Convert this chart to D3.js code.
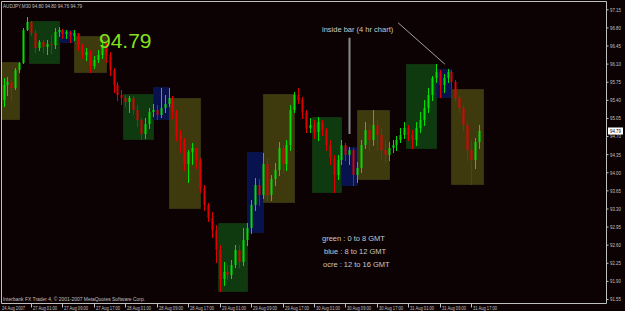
<!DOCTYPE html>
<html>
<head>
<meta charset="utf-8">
<script src="https://cdn.jsdelivr.net/npm/d3@7/dist/d3.min.js"></script>
<style>
  body { margin: 0; background: #0c0204; }
  svg { display: block; font-family: "Liberation Sans", Arial, sans-serif; }
</style>
</head>
<body>
<script>
var svgWidth = 625;
var svgHeight = 311;

// hourly bars, 24 Aug 2007 16:00 -> 31 Aug 2007
var firstOpen = 95.40;
var closes = [
  95.69, 95.75, 95.63, 95.98, 96.11, 96.75, 96.90, 96.69, 96.40, 96.52,
  96.42, 96.48, 96.46, 96.71, 96.75, 96.67, 96.71, 96.63, 96.69, 96.46,
  96.27, 96.33, 96.06, 96.17, 96.27, 96.46, 96.27, 95.98, 95.69, 95.50,
  95.44, 95.36, 95.44, 95.21, 95.01, 94.74, 94.94, 95.17, 95.21, 95.11,
  95.25, 95.32, 95.44, 95.17, 94.72, 94.63, 94.15, 94.40, 94.47, 94.24,
  93.70, 93.37, 93.12, 92.89, 92.50, 91.93, 92.08, 92.02, 92.21, 92.50,
  92.27, 92.70, 92.93, 93.37, 93.76, 93.57, 94.15, 93.57, 93.86, 94.05,
  94.47, 94.15, 94.53, 95.21, 95.50, 95.40, 95.17, 94.86, 94.92, 94.78,
  94.98, 94.82, 94.53, 94.28, 93.95, 94.24, 94.53, 94.34, 94.43, 93.95,
  94.09, 94.53, 94.82, 94.63, 94.92, 94.72, 94.43, 94.34, 94.47, 94.53,
  94.63, 94.72, 94.86, 94.72, 94.63, 94.86, 95.01, 95.25, 95.50, 95.82,
  95.94, 95.69, 95.82, 95.94, 95.75, 95.44, 95.25, 94.92, 94.43, 94.24,
  94.59, 94.79
];
var highs = [
  95.82, 95.84, 95.79, 96.02, 96.13, 96.79, 97.00, 96.92, 96.75, 96.56,
  96.56, 96.56, 96.65, 96.79, 96.81, 96.77, 96.75, 96.73, 96.75, 96.69,
  96.48, 96.40, 96.36, 96.25, 96.36, 96.56, 96.50, 96.33, 96.02, 95.75,
  95.59, 95.50, 95.48, 95.48, 95.30, 95.05, 95.05, 95.25, 95.32, 95.30,
  95.63, 95.50, 95.63, 95.48, 95.21, 94.82, 94.67, 94.43, 94.57, 94.47,
  94.28, 93.76, 93.41, 93.24, 92.99, 92.60, 92.27, 92.20, 92.31, 92.60,
  92.60, 92.93, 93.01, 93.47, 93.89, 93.86, 94.38, 94.28, 93.95, 94.18,
  94.59, 94.53, 94.63, 95.30, 95.55, 95.63, 95.46, 95.21, 95.05, 95.01,
  95.07, 95.01, 94.86, 94.63, 94.34, 94.34, 94.63, 94.57, 94.49, 94.47,
  94.20, 94.63, 94.98, 94.92, 95.21, 95.01, 94.86, 94.63, 94.59, 94.63,
  94.71, 94.86, 94.98, 94.92, 94.82, 94.98, 95.17, 95.40, 95.63, 95.86,
  96.09, 95.98, 95.90, 96.00, 95.98, 95.79, 95.48, 95.30, 94.98, 94.63,
  94.67, 94.92
];
var lows = [
  95.29, 95.50, 95.40, 95.60, 95.94, 96.42, 96.75, 96.65, 96.33, 96.36,
  96.33, 96.29, 96.31, 96.40, 96.63, 96.60, 96.60, 96.52, 96.56, 96.36,
  96.21, 96.17, 95.94, 96.02, 96.13, 96.21, 96.13, 95.88, 95.55, 95.40,
  95.32, 95.29, 95.17, 95.13, 94.90, 94.65, 94.67, 94.86, 95.09, 95.03,
  95.07, 95.17, 95.29, 95.05, 94.63, 94.40, 94.05, 93.82, 94.15, 94.09,
  93.62, 93.28, 93.05, 92.74, 92.27, 91.71, 91.83, 91.93, 91.96, 92.16,
  92.16, 92.21, 92.60, 92.83, 93.28, 93.37, 93.51, 93.47, 93.47, 93.76,
  93.95, 94.01, 94.05, 94.43, 95.17, 95.34, 95.05, 94.78, 94.78, 94.67,
  94.63, 94.72, 94.43, 94.15, 93.62, 93.86, 94.15, 94.24, 94.15, 93.76,
  93.82, 94.01, 94.47, 94.43, 94.53, 94.43, 94.28, 94.20, 94.24, 94.40,
  94.43, 94.59, 94.67, 94.63, 94.47, 94.53, 94.78, 94.92, 95.17, 95.40,
  95.75, 95.46, 95.55, 95.75, 95.63, 95.40, 95.17, 94.82, 94.24, 93.78,
  94.09, 94.47
];

// session boxes (bar positions, high, low)
var sessionKind = ["ocre", "green", "blue", "ocre", "green", "blue", "ocre", "green", "blue", "ocre", "green", "blue", "ocre", "green", "blue", "ocre"];
var sessionFrom = [-4, 6.5, 14, 18, 30.5, 38, 42, 54.5, 62, 66, 78.5, 86, 90, 102.5, 110, 114];
var sessionTo = [4, 14, 18, 26, 38, 42, 50, 62, 66, 74, 86, 90, 98, 110, 114, 122];
var sessionHigh = [96.13, 96.92, 96.75, 96.63, 95.51, 95.65, 95.44, 93.01, 94.40, 95.51, 95.07, 94.49, 95.21, 96.09, 96.00, 95.61];
var sessionLow = [95.03, 96.11, 96.52, 95.94, 94.65, 95.03, 93.31, 91.71, 92.85, 93.43, 93.62, 93.76, 93.87, 94.47, 95.46, 93.78];

// axes
var priceTicks = [97.15, 96.80, 96.45, 96.10, 95.75, 95.40, 95.05, 94.70, 94.35, 94.00, 93.65, 93.30, 92.95, 92.60, 92.25, 91.90, 91.55];
var timeTickBars = [7, 15, 23, 31, 39, 47, 55, 63, 71, 79, 87, 95, 103, 111, 119];
var timeLabels = ["27 Aug 01:00", "27 Aug 09:00", "27 Aug 17:00", "28 Aug 01:00", "28 Aug 09:00", "28 Aug 17:00",
  "29 Aug 01:00", "29 Aug 09:00", "29 Aug 17:00", "30 Aug 01:00", "30 Aug 09:00", "30 Aug 17:00",
  "31 Aug 01:00", "31 Aug 09:00", "31 Aug 17:00"];
var firstLabel = "24 Aug 2007";
var lastPrice = 94.79;

// notes
var legendLines = ["green : 0 to 8 GMT", "blue : 8 to 12 GMT", "ocre : 12 to 16 GMT"];
var noteText = "inside bar (4 hr chart)";
var noteArrow = [[100.4, 96.89], [112.3, 96.09]];
var markBar = 87.9;
var markRange = [96.60, 94.74];

var plot = {left: 1, top: 1, right: 606, bottom: 303};
var grey = "#c0c0c0";
var fills = {green: "#0f3a0f", blue: "#08124e", ocre: "#3e3a0e"};
var edges = {green: "#164616", blue: "#0e1a5c", ocre: "#4a4616"};
var squeeze = 0.66; // MetaTrader axis font is narrow

var svg = d3.select("body")
  .append("svg")
  .attr("width", svgWidth)
  .attr("height", svgHeight);

svg.append("rect")
  .attr("width", svgWidth)
  .attr("height", svgHeight)
  .attr("fill", "#0c0204");

var x = d3.scaleLinear().domain([0, 121]).range([3.5, 479]);
var y = d3.scaleLinear().domain([91.55, 97.15]).range([299, 9.3]);

svg.append("clipPath").attr("id", "clip")
  .append("rect")
  .attr("x", plot.left + 1).attr("y", plot.top + 1)
  .attr("width", plot.right - plot.left - 1)
  .attr("height", plot.bottom - plot.top - 1);

var chart = svg.append("g").attr("clip-path", "url(#clip)");

// session boxes
var sessions = sessionKind.map(function (k, i) {
  return {kind: k, from: sessionFrom[i], to: sessionTo[i], hi: sessionHigh[i], lo: sessionLow[i]};
});

chart.selectAll("rect.session")
  .data(sessions)
  .enter()
  .append("rect")
  .attr("class", "session")
  .attr("x", d => Math.round(x(d.from)) + 0.5)
  .attr("y", d => Math.round(y(d.hi)) + 0.5)
  .attr("width", d => Math.round(x(d.to)) - Math.round(x(d.from)))
  .attr("height", d => Math.round(y(d.lo)) - Math.round(y(d.hi)))
  .attr("fill", d => fills[d.kind])
  .attr("stroke", d => edges[d.kind])
  .attr("stroke-dasharray", "1,1");

// candles
var bars = closes.map(function (c, i) {
  var o = i === 0 ? firstOpen : closes[i - 1];
  return {
    i: i, o: o, c: c,
    h: Math.max(highs[i], o, c),
    l: Math.min(lows[i], o, c)
  };
});

var candle = chart.selectAll("g.bar")
  .data(bars)
  .enter()
  .append("g")
  .attr("class", "bar");

candle.append("line")
  .attr("x1", d => Math.round(x(d.i)) + 0.5)
  .attr("x2", d => Math.round(x(d.i)) + 0.5)
  .attr("y1", d => Math.round(y(d.h)))
  .attr("y2", d => Math.round(y(d.l)) + 1)
  .attr("stroke", d => d.c >= d.o ? "#00dd00" : "#e00000")
  .attr("stroke-width", 1);

candle.append("rect")
  .attr("x", d => Math.round(x(d.i)) - 0.5)
  .attr("width", 2)
  .attr("y", d => Math.round(y(Math.max(d.o, d.c))))
  .attr("height", d => Math.max(1, Math.round(y(Math.min(d.o, d.c))) - Math.round(y(Math.max(d.o, d.c)))))
  .attr("fill", d => d.c >= d.o ? "#00dd00" : "#e00000");

// annotation lines
chart.append("line")
  .attr("x1", Math.round(x(markBar)) + 0.5)
  .attr("x2", Math.round(x(markBar)) + 0.5)
  .attr("y1", y(markRange[0]))
  .attr("y2", y(markRange[1]))
  .attr("stroke", "#8a8a8a")
  .attr("stroke-width", 2);

chart.append("line")
  .attr("x1", x(noteArrow[0][0]))
  .attr("y1", y(noteArrow[0][1]))
  .attr("x2", x(noteArrow[1][0]))
  .attr("y2", y(noteArrow[1][1]))
  .attr("stroke", "#a0a0a0")
  .attr("stroke-width", 1);

svg.append("text")
  .attr("x", 322).attr("y", 32)
  .attr("fill", "#c8c8c8")
  .attr("font-size", "7.5px")
  .text(noteText);

svg.selectAll("text.legend")
  .data(legendLines)
  .enter()
  .append("text")
  .attr("class", "legend")
  .attr("x", (d, i) => [322, 324, 323][i])
  .attr("y", (d, i) => 241 + i * 13)
  .attr("fill", "#c8c8c8")
  .attr("font-size", "7.5px")
  .text(d => d);

// big price
svg.append("text")
  .attr("x", 99).attr("y", 48)
  .attr("fill", "#84e01c")
  .attr("font-size", "21px")
  .text(lastPrice.toFixed(2));

// header and footer text
svg.append("text")
  .attr("x", 3).attr("y", 8)
  .attr("fill", grey)
  .attr("font-size", "6px")
  .attr("textLength", 79)
  .attr("lengthAdjust", "spacingAndGlyphs")
  .text("AUDJPY,M30  94.80 94.80 94.76 " + lastPrice.toFixed(2));

svg.append("text")
  .attr("x", 3).attr("y", 300.5)
  .attr("fill", grey)
  .attr("font-size", "6px")
  .attr("textLength", 142)
  .attr("lengthAdjust", "spacingAndGlyphs")
  .text("Interbank FX Trader 4, \u00a9 2001-2007 MetaQuotes Software Corp.");

// frame
svg.append("path")
  .attr("d", `M${plot.left + 0.5},${plot.bottom + 0.5}V${plot.top + 0.5}H${plot.right + 0.5}V${plot.bottom + 0.5}H${plot.left + 0.5}`)
  .attr("fill", "none")
  .attr("stroke", grey);

// right price axis
var rightAxis = d3.axisRight(y)
  .tickValues(priceTicks)
  .tickSize(2)
  .tickPadding(1.5)
  .tickFormat(d3.format(".2f"));

var yAxis = svg.append("g")
  .attr("transform", `translate(${plot.right + 0.5}, 0)`)
  .call(rightAxis);
yAxis.select(".domain").remove();
yAxis.selectAll("line").attr("stroke", grey);
yAxis.selectAll("text")
  .attr("fill", grey)
  .attr("font-size", "6px")
  .attr("font-family", "Liberation Sans, Arial, sans-serif")
  .attr("textLength", 11)
  .attr("lengthAdjust", "spacingAndGlyphs");

// last price tag
var tag = svg.append("g").attr("transform", `translate(${plot.right + 2}, ${Math.round(y(lastPrice))})`);
tag.append("rect")
  .attr("x", 0).attr("y", -3.5)
  .attr("width", 15).attr("height", 7)
  .attr("fill", "#ffffff");
tag.append("text")
  .attr("x", 2).attr("y", 2.3)
  .attr("fill", "#000000")
  .attr("font-size", "6px")
  .attr("textLength", 11)
  .attr("lengthAdjust", "spacingAndGlyphs")
  .text(lastPrice.toFixed(2));

// bottom time axis
var bottomAxis = d3.axisBottom(x)
  .tickValues(timeTickBars)
  .tickSize(4)
  .tickFormat((d, i) => timeLabels[i]);

var xAxis = svg.append("g")
  .attr("transform", `translate(0, ${plot.bottom + 0.5})`)
  .call(bottomAxis);
xAxis.select(".domain").remove();
xAxis.selectAll(".tick").attr("transform", d => `translate(${Math.round(x(d)) + 0.5}, 0)`);
xAxis.selectAll("line").attr("stroke", grey);
xAxis.selectAll("text")
  .attr("fill", grey)
  .attr("font-size", "6.2px")
  .attr("font-family", "Liberation Sans, Arial, sans-serif")
  .attr("text-anchor", "start")
  .attr("transform", `scale(${squeeze}, 1)`)
  .attr("x", 1.5 / squeeze)
  .attr("y", 1)
  .attr("dy", "0.9em");

svg.append("text")
  .attr("transform", `translate(2, 309.5) scale(${squeeze}, 1)`)
  .attr("fill", grey)
  .attr("font-size", "6.2px")
  .text(firstLabel);
</script>
</body>
</html>
